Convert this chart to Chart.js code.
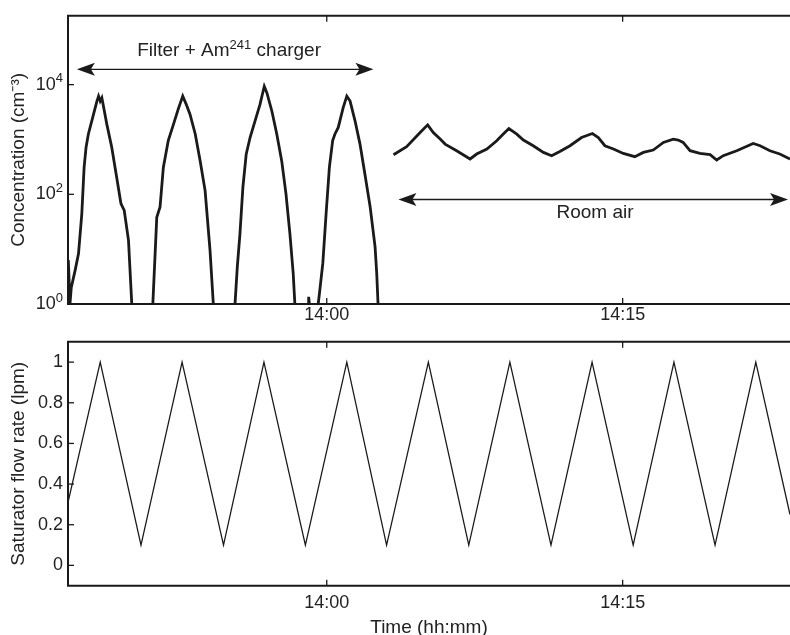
<!DOCTYPE html>
<html><head><meta charset="utf-8">
<script src="https://cdn.jsdelivr.net/npm/chart.js@4.4.1/dist/chart.umd.min.js"></script>
<style>
html,body{margin:0;padding:0;background:#fff;overflow:hidden;width:790px;height:635px;}
#c1{position:absolute;left:0;top:0;}
#c2{position:absolute;left:0;top:326px;}
</style></head><body>
<canvas id="c1" width="790" height="330"></canvas>
<canvas id="c2" width="790" height="324"></canvas>
<script>
// ---- axis definitions (time = seconds relative to 14:00:00) ----
const xMin = -787;
const xMax = 1409;
const timeTickValues = [0, 900];
const timeTickLabels = ['14:00', '14:15'];
const concTickValues = [1, 100, 10000];
const concTickBase = '10';
const concTickExponents = ['0', '2', '4'];
const flowTickValues = [0, 0.2, 0.4, 0.6, 0.8, 1];
const flowTickLabels = ['0', '0.2', '0.4', '0.6', '0.8', '1'];

// ---- top panel: Filter + Am241 charger (null = below 1 cm^-3, gap) ----
const filterTimes = [-786,-781,-777,-765,-755,-745,-738,-732,-725,-712,-699,-694,-689,-684,-669,-654,-639,-626,-616,-603,-593,
  -560,
  -529,-522,-517,-507,-497,-482,-466,-452,-438,-428,-416,-400,-385,-370,-355,-345,
  -310,
  -279,-272,-264,-255,-245,-233,-218,-203,-190,-182,-167,-152,-137,-124,-112,-102,-97,
  -75,
  -56,-55,-53,
  -40,
  -26,-22,-12,-2,8,18,25,35,50,61,71,86,101,116,132,147,152,156];
const filterConc = [6.3,1,2,4.2,8.3,44,309,724,1259,2512,5012,6166,5012,5754,1905,724,204,68,51,14.5,1,
  null,
  1,8.3,38,59,309,955,1905,3548,6166,4467,2884,1259,407,117,9.5,1,
  null,
  1,4.8,19,135,537,1096,2188,4365,9333,7079,3311,1259,407,102,19,3.6,1,
  null,
  1,1.35,1,
  null,
  1,1.6,5.5,44,309,955,1259,1660,3802,6166,5012,2188,832,234,59,11,3.6,1];

// ---- top panel: room air ----
const roomTimes = [203,243,284,307,324,345,360,395,436,456,487,517,537,554,578,598,628,659,684,709,
  740,775,808,826,846,872,902,937,963,993,1024,1054,1069,1084,1105,1135,1166,1186,1206,1247,1297,1318,1348,1378,1409];
const roomConc = [528,738,1340,1849,1340,1016,824,624,441,543,670,947,1253,1585,1253,975,769,581,506,605,
  769,1086,1285,1086,769,670,557,485,581,642,883,1016,975,883,624,557,528,422,506,624,847,769,624,543,441];

// ---- bottom panel: saturator flow rate (lpm) ----
const flowTimes = [-787,-689,-565,-440,-314,-191,-65,61,182,309,432,557,682,807,932,1056,1181,1305,1409];
const flowRate = [0.31,1,0.1,1,0.1,1,0.1,1,0.1,1,0.1,1,0.1,1,0.1,1,0.1,1,0.25];

// ---- annotations ----
const filterLabelParts = [['Filter + Am', false], ['241', true], [' charger', false]];
const roomLabelParts = [['Room air', false]];

const FONT = "'Liberation Sans', Arial, Helvetica, sans-serif";
const INK = '#1a1a1a';
Chart.defaults.font.family = FONT;
Chart.defaults.color = '#222';

function pts(t, v) { return t.map((x, i) => ({x: x, y: v[i]})); }

function drawRich(ctx, parts, x0, cy, align, mainSize, supSize) {
  const main = mainSize + 'px ' + FONT, sup = supSize + 'px ' + FONT;
  let w = 0;
  parts.forEach(p => { ctx.font = p[1] ? sup : main; w += ctx.measureText(p[0]).width; });
  let x = align === 'right' ? x0 - w : x0 - w / 2;
  ctx.textAlign = 'left';
  ctx.textBaseline = 'middle';
  ctx.fillStyle = '#222';
  parts.forEach(p => {
    ctx.font = p[1] ? sup : main;
    ctx.fillText(p[0], x, p[1] ? cy - 6 : cy);
    x += ctx.measureText(p[0]).width;
  });
}

const boxPlugin = {
  id: 'box',
  beforeDatasetsDraw(chart, args, opts) {
    const {ctx, chartArea: a, scales} = chart;
    ctx.save();
    ctx.strokeStyle = INK;
    ctx.lineWidth = 2;
    ctx.beginPath();
    ctx.moveTo(a.right + 2, a.top); ctx.lineTo(a.left, a.top);
    ctx.lineTo(a.left, a.bottom); ctx.lineTo(a.right + 2, a.bottom);
    ctx.stroke();
    ctx.lineWidth = 1.3;
    const tl = 6;
    scales.x.ticks.forEach(t => {
      const px = scales.x.getPixelForValue(t.value);
      ctx.beginPath();
      ctx.moveTo(px, a.bottom); ctx.lineTo(px, a.bottom - tl);
      ctx.moveTo(px, a.top); ctx.lineTo(px, a.top + tl);
      ctx.stroke();
    });
    scales.y.ticks.forEach((t, i) => {
      const py = scales.y.getPixelForValue(t.value);
      ctx.beginPath(); ctx.moveTo(a.left, py); ctx.lineTo(a.left + tl, py); ctx.stroke();
      if (opts.powerLabels) {
        drawRich(ctx, [[concTickBase, false], [concTickExponents[i], true]], a.left - 5, py, 'right', 18, 13);
      }
    });
    ctx.restore();
  }
};

function head(ctx, x, y, dir) {
  const L = 18, H = 6.5, N = 4;
  ctx.beginPath();
  ctx.moveTo(x, y);
  ctx.lineTo(x - dir * L, y - H);
  ctx.lineTo(x - dir * (L - N), y);
  ctx.lineTo(x - dir * L, y + H);
  ctx.closePath();
  ctx.fill();
}

const arrowPlugin = {
  id: 'arrows',
  afterDatasetsDraw(chart, args, opts) {
    if (!opts.items) return;
    const {ctx, scales: {x, y}} = chart;
    ctx.save();
    ctx.lineWidth = 1.4;
    opts.items.forEach(it => {
      ctx.strokeStyle = INK; ctx.fillStyle = INK;
      const x1 = x.getPixelForValue(it.from), x2 = x.getPixelForValue(it.to), py = y.getPixelForValue(it.at);
      ctx.beginPath(); ctx.moveTo(x1 + 6, py); ctx.lineTo(x2 - 6, py); ctx.stroke();
      head(ctx, x1, py, -1); head(ctx, x2, py, 1);
      drawRich(ctx, it.parts, x.getPixelForValue(it.labelAt), y.getPixelForValue(it.labelLevel), 'center', 19, 13);
    });
    ctx.restore();
  }
};

function xAxis(pad, height, title) {
  return {
    type: 'linear', min: xMin, max: xMax,
    grid: {display: false, drawTicks: false},
    border: {display: false},
    afterBuildTicks: s => { s.ticks = timeTickValues.map(v => ({value: v})); },
    afterFit: s => { s.height = height; },
    ticks: {padding: pad, color: '#222', font: {size: 18}, maxRotation: 0, autoSkip: false,
      callback: (v, i) => timeTickLabels[i]},
    title: title ? {display: true, text: title, color: '#222', font: {size: 19}, padding: {top: 0, bottom: 10.6}} : {display: false}
  };
}

new Chart(document.getElementById('c1'), {
  type: 'line',
  data: {datasets: [
    {data: pts(filterTimes, filterConc), borderColor: INK, borderWidth: 2.8, pointRadius: 0, spanGaps: false, tension: 0},
    {data: pts(roomTimes, roomConc), borderColor: INK, borderWidth: 2.8, pointRadius: 0, tension: 0}
  ]},
  options: {
    responsive: false, animation: false, devicePixelRatio: 1,
    layout: {padding: {top: 14, left: 0, right: 0, bottom: 0}},
    plugins: {legend: {display: false}, tooltip: {enabled: false},
      box: {powerLabels: true},
      arrows: {items: [
        {from: -760, to: 142, at: 19000, labelAt: -297, labelLevel: 40700, parts: filterLabelParts},
        {from: 218, to: 1403, at: 80.5, labelAt: 816, labelLevel: 46.6, parts: roomLabelParts}
      ]}},
    scales: {
      x: xAxis(0, 26, null),
      y: {
        type: 'logarithmic', min: 1, max: 180000,
        grid: {display: false, drawTicks: false}, border: {display: false},
        afterBuildTicks: s => { s.ticks = concTickValues.map(v => ({value: v})); },
        afterFit: s => { s.width = 68; },
        ticks: {padding: 5, font: {size: 18}, autoSkip: false, callback: () => ''},
        title: {display: true, text: 'Concentration (cm\u207B\u00B3)', color: '#222', font: {size: 19}, padding: {top: 7.6, bottom: 0}}
      }
    }
  },
  plugins: [boxPlugin, arrowPlugin]
});

new Chart(document.getElementById('c2'), {
  type: 'line',
  data: {datasets: [
    {data: pts(flowTimes, flowRate), borderColor: INK, borderWidth: 1.3, pointRadius: 0, tension: 0}
  ]},
  options: {
    responsive: false, animation: false, devicePixelRatio: 1,
    layout: {padding: {top: 10, left: 0, right: 0, bottom: 0}},
    plugins: {legend: {display: false}, tooltip: {enabled: false}, box: {powerLabels: false}, arrows: {}},
    scales: {
      x: xAxis(7, 64.3, 'Time (hh:mm)'),
      y: {
        type: 'linear', min: -0.1, max: 1.1,
        grid: {display: false, drawTicks: false}, border: {display: false},
        afterBuildTicks: s => { s.ticks = flowTickValues.map(v => ({value: v})); },
        afterFit: s => { s.width = 68; },
        ticks: {padding: 5, color: '#222', font: {size: 18}, autoSkip: false, callback: (v, i) => flowTickLabels[i]},
        title: {display: true, text: 'Saturator flow rate (lpm)', color: '#222', font: {size: 19}, padding: {top: 7.6, bottom: 0}}
      }
    }
  },
  plugins: [boxPlugin, arrowPlugin]
});
</script>
</body></html>
